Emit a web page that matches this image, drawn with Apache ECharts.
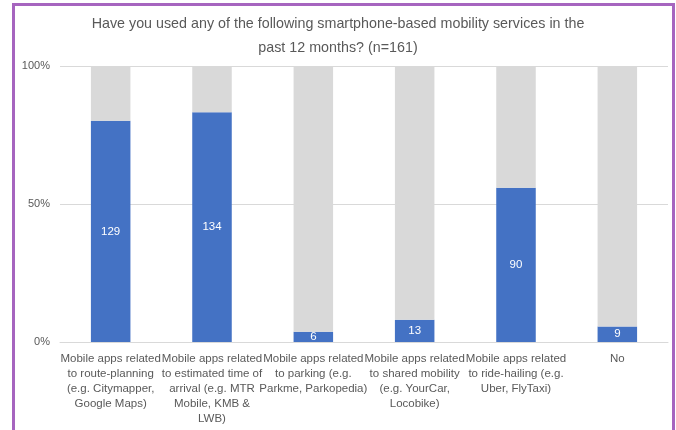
<!DOCTYPE html>
<html>
<head>
<meta charset="utf-8">
<script src="https://cdn.jsdelivr.net/npm/echarts@6/dist/echarts.min.js"></script>
<style>
  html, body { margin: 0; padding: 0; background: #fff; }
  #chart { width: 676px; height: 430px; }
</style>
</head>
<body>
<div id="chart"></div>
<script>
// 数据
const total = 161;
const categories = [
    'Mobile apps related\nto route-planning\n(e.g. Citymapper,\nGoogle Maps)',
    'Mobile apps related\nto estimated time of\narrival (e.g. MTR\nMobile, KMB &\nLWB)',
    'Mobile apps related\nto parking (e.g.\nParkme, Parkopedia)',
    'Mobile apps related\nto shared mobility\n(e.g. YourCar,\nLocobike)',
    'Mobile apps related\nto ride-hailing (e.g.\nUber, FlyTaxi)',
    'No'
];
const usedCounts = [129, 134, 6, 13, 90, 9];
const yTicks = [0, 50, 100];   // 百分比刻度

const restCounts = usedCounts.map(v => total - v);
const font = '"Liberation Sans", sans-serif';

let chart = echarts.init(document.getElementById('chart'), null, { renderer: 'canvas' });
let option = {
    animation: false,
    textStyle: { fontFamily: font },
    title: {
        text: 'Have you used any of the following smartphone-based mobility services in the\npast 12 months? (n=161)',
        left: 'center',
        top: 7,
        textStyle: {
            color: '#595959',
            fontSize: 14.3,
            fontWeight: 'normal',
            lineHeight: 24,
            fontFamily: font
        }
    },
    graphic: [{
        type: 'rect',
        shape: { x: 13.5, y: 4.5, width: 660, height: 440 },
        style: { fill: null, stroke: '#A665BF', lineWidth: 3 },
        silent: true,
        z: 100
    }],
    grid: { left: 60, right: 8, top: 66, bottom: 88 },
    xAxis: {
        type: 'category',
        data: categories,
        axisTick: { show: false },
        axisLine: { lineStyle: { color: '#D9D9D9' } },
        axisLabel: {
            interval: 0,
            color: '#595959',
            fontSize: 11.5,
            lineHeight: 15,
            margin: 9,
            fontFamily: font
        }
    },
    yAxis: {
        type: 'value',
        min: 0,
        max: total,
        interval: total / 2,
        axisLabel: {
            color: '#595959',
            fontSize: 11,
            margin: 10,
            formatter: v => yTicks[Math.round(v / (total / 2))] + '%'
        },
        splitLine: { lineStyle: { color: '#D9D9D9' } },
        axisLine: { show: false },
        axisTick: { show: false }
    },
    series: [
        {
            name: 'Yes',
            type: 'bar',
            stack: 'all',
            barWidth: '39%',
            data: usedCounts,
            itemStyle: { color: '#4472C4' },
            label: {
                show: true,
                position: 'inside',
                color: '#fff',
                fontSize: 11.5,
                fontFamily: font
            }
        },
        {
            name: 'No',
            type: 'bar',
            stack: 'all',
            barWidth: '39%',
            data: restCounts,
            itemStyle: { color: '#D9D9D9' }
        }
    ]
};
chart.setOption(option);
</script>
</body>
</html>
